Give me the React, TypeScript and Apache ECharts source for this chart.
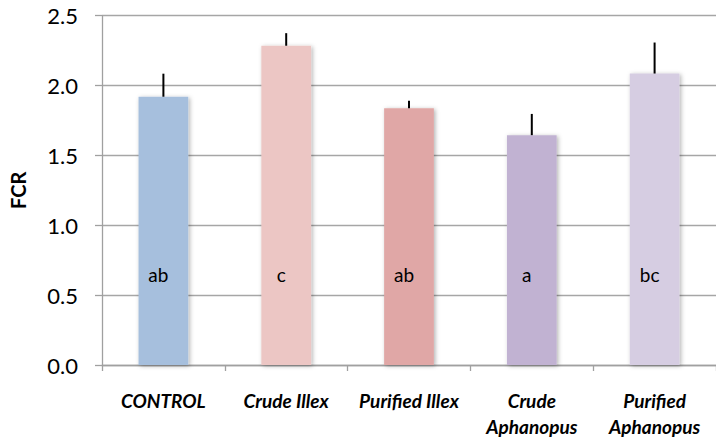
import React, { useEffect, useRef } from "react";
import * as echarts from "echarts";

const categories = ["CONTROL", "Crude Illex", "Purified Illex", "Crude\nAphanopus", "Purified\nAphanopus"];
const fcrValues = [1.92, 2.285, 1.837, 1.645, 2.086];
const errorValues = [0.165, 0.09, 0.055, 0.152, 0.222];
const groupLetters = ["ab", "c", "ab", "a", "bc"];
const barColors = ["#A6BFDD", "#ECC6C4", "#E0A7A6", "#C1B2D2", "#D6CDE2"];
const yTicks = { min: 0, max: 2.5, interval: 0.5 };

const LETTER_Y = 0.65;
const FONT = "Lato, 'Open Sans', sans-serif";

export default function App() {
  const ref = useRef<HTMLDivElement>(null);
  useEffect(() => {
    if (!ref.current) return;
    const chart = echarts.init(ref.current, null, { renderer: "svg" });
    chart.setOption({
      animation: false,
      grid: { left: 102, right: -3, top: 15.7, bottom: 71.7, containLabel: false },
      xAxis: {
        type: "category",
        data: categories,
        axisLine: { lineStyle: { color: "#A0A0A0", width: 1.3 } },
        axisTick: { show: true, length: 6, lineStyle: { color: "#A0A0A0", width: 1.3 } },
        axisLabel: {
          interval: 0,
          margin: 22,
          fontFamily: FONT,
          fontSize: 19,
          fontWeight: "bold",
          fontStyle: "italic",
          color: "#000",
          lineHeight: 26,
        },
      },
      yAxis: {
        type: "value",
        min: yTicks.min,
        max: yTicks.max,
        interval: yTicks.interval,
        name: "FCR",
        nameLocation: "middle",
        nameGap: 74,
        nameTextStyle: { fontFamily: FONT, fontSize: 20, fontWeight: "bold", color: "#000" },
        axisLine: { show: true, lineStyle: { color: "#A0A0A0", width: 1.3 } },
        axisTick: { show: true, length: 7, lineStyle: { color: "#A0A0A0", width: 1.3 } },
        splitLine: { lineStyle: { color: "#A6A6A6", width: 1.3 } },
        axisLabel: {
          margin: 24,
          fontFamily: FONT,
          fontSize: 22,
          color: "#000",
          formatter: (v: number) => v.toFixed(1),
        },
      },
      series: [
        {
          type: "bar",
          barWidth: "40.5%",
          data: fcrValues.map((v, i) => ({
            value: v,
            itemStyle: {
              color: barColors[i],
              shadowColor: "rgba(0,0,0,0.3)",
              shadowBlur: 4,
              shadowOffsetX: 1.5,
              shadowOffsetY: 1,
            },
          })),
        },
        {
          type: "custom",
          data: fcrValues.map((v, i) => [i, v, v + errorValues[i]]),
          renderItem: (params: any, api: any) => {
            const i = api.value(0);
            const lo = api.coord([i, api.value(1)]);
            const hi = api.coord([i, api.value(2)]);
            const lab = api.coord([i, LETTER_Y]);
            return {
              type: "group",
              children: [
                {
                  type: "line",
                  shape: { x1: lo[0], y1: lo[1], x2: hi[0], y2: hi[1] },
                  style: { stroke: "#000", lineWidth: 2 },
                },
                {
                  type: "text",
                  x: lab[0] - 5,
                  y: lab[1],
                  style: {
                    text: groupLetters[params.dataIndex],
                    fontFamily: FONT,
                    fontSize: 19,
                    fill: "#000",
                    align: "center",
                    verticalAlign: "middle",
                  },
                },
              ],
            };
          },
          z: 10,
        },
      ],
    });
    return () => chart.dispose();
  }, []);
  return <div ref={ref} style={{ width: 716, height: 439, position: "absolute", left: 0, top: 0 }} />;
}
